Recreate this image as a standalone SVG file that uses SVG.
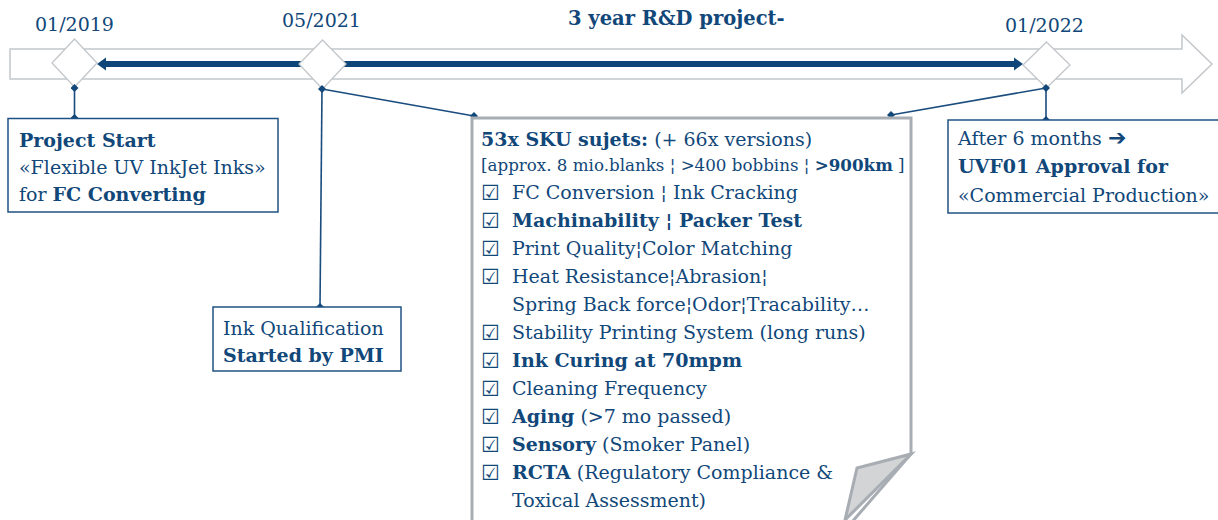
<svg xmlns="http://www.w3.org/2000/svg" width="1218" height="520" viewBox="0 0 1218 520">
<defs>
<style>
text{font-family:"DejaVu Serif","Liberation Serif",serif;fill:#114779;font-size:19px}
.b{font-weight:bold}
.date{font-size:19px}
.ttl{font-size:19.5px;font-weight:bold}
.sm{font-size:16.7px}
.chk{font-family:"DejaVu Sans",sans-serif;font-size:21px}
.box{fill:#fff;stroke:#1f5284;stroke-width:1.5}
.dia{fill:#fff;stroke:#c3c7cb;stroke-width:1.3}
.con{stroke:#1a4c7d;stroke-width:1.6;fill:none}
</style>
<marker id="dm" viewBox="-4 -4 8 8" markerWidth="8" markerHeight="8" markerUnits="userSpaceOnUse" refX="0" refY="0">
<path d="M0,-4L4,0L0,4L-4,0Z" fill="#114779"/>
</marker>
</defs>
<g id="timeline">
<polygon points="10,49 1182,49 1182,35 1212,64 1182,93 1182,79 10,79" fill="#fff" stroke="#c3c7cb" stroke-width="1.5"/>
<line x1="104" y1="64" x2="1016" y2="64" stroke="#0f4679" stroke-width="6"/>
<polygon points="97,64 106,57.5 106,70.5" fill="#0f4679"/>
<polygon points="1023,64 1014,57.5 1014,70.5" fill="#0f4679"/>
</g>
<g id="m2019"><polygon class="dia" points="74.5,39 97,63 74.5,87 52,63"/><text class="date" x="35" y="31">01/2019</text></g>
<g id="m2021"><polygon class="dia" points="322.5,40 346,64 322.5,89 299,64"/><text class="date" x="282" y="27">05/2021</text></g>
<g id="m2022"><polygon class="dia" points="1046.5,42 1070,65 1046.5,88 1023,65"/><text class="date" x="1005" y="32">01/2022</text></g>
<g id="title"><text class="ttl" x="568" y="25">3 year R&amp;D project-</text></g>
<g id="connectors">
<line class="con" x1="74.5" y1="88" x2="74.5" y2="118" marker-start="url(#dm)" marker-end="url(#dm)"/>
<line class="con" x1="322" y1="89" x2="320" y2="307" marker-start="url(#dm)" marker-end="url(#dm)"/>
<line class="con" x1="322" y1="89" x2="474" y2="116" marker-end="url(#dm)"/>
<line class="con" x1="1046" y1="88" x2="1046" y2="120" marker-start="url(#dm)" marker-end="url(#dm)"/>
<line class="con" x1="1046" y1="88" x2="891" y2="115" marker-end="url(#dm)"/>
</g>
<g id="start">
<rect class="box" x="8" y="118.5" width="270" height="93.5"/>
<text class="b" x="19" y="147">Project Start</text>
<text x="19" y="174">«Flexible UV InkJet Inks»</text>
<text x="19" y="201">for <tspan class="b">FC Converting</tspan></text>
</g>
<g id="inkqual">
<rect class="box" x="213" y="307" width="188" height="64"/>
<text x="223" y="335">Ink Qualification</text>
<text class="b" x="223" y="362">Started by PMI</text>
</g>
<g id="approval">
<rect class="box" x="948" y="120" width="275" height="93"/>
<text x="958" y="145">After 6 months <tspan font-family="DejaVu Sans, sans-serif" font-weight="bold" font-size="22">➔</tspan></text>
<text class="b" x="958" y="173">UVF01 Approval for</text>
<text x="958" y="202">«Commercial Production»</text>
</g>
<g id="sku">
<path d="M472,530 L472,118 L911,118 L911,454 L845,530" fill="#fff" stroke="#a7adb3" stroke-width="3"/>
<polygon points="911,454 857,468 845,520" fill="#d2d4d6" stroke="#a7adb3" stroke-width="3"/>
<text x="481" y="146"><tspan class="b">53x SKU sujets:</tspan> (+ 66x versions)</text>
<text class="sm" x="481" y="171">[approx. 8 mio.blanks ¦ &gt;400 bobbins ¦ <tspan class="b">&gt;900km</tspan> ]</text>
<text class="chk" x="481" y="200">☑</text>
<text class="chk" x="481" y="228">☑</text>
<text class="chk" x="481" y="256">☑</text>
<text class="chk" x="481" y="284">☑</text>
<text class="chk" x="481" y="340">☑</text>
<text class="chk" x="481" y="368">☑</text>
<text class="chk" x="481" y="396">☑</text>
<text class="chk" x="481" y="424">☑</text>
<text class="chk" x="481" y="452">☑</text>
<text class="chk" x="481" y="480">☑</text>
<text x="512" y="199">FC Conversion ¦ Ink Cracking</text>
<text class="b" x="512" y="227">Machinability ¦ Packer Test</text>
<text x="512" y="255">Print Quality¦Color Matching</text>
<text x="512" y="283">Heat Resistance¦Abrasion¦</text>
<text x="512" y="311">Spring Back force¦Odor¦Tracability…</text>
<text x="512" y="339">Stability Printing System (long runs)</text>
<text class="b" x="512" y="367">Ink Curing at 70mpm</text>
<text x="512" y="395">Cleaning Frequency</text>
<text x="512" y="423"><tspan class="b">Aging</tspan> (&gt;7 mo passed)</text>
<text x="512" y="451"><tspan class="b">Sensory</tspan> (Smoker Panel)</text>
<text x="512" y="479"><tspan class="b">RCTA</tspan> (Regulatory Compliance &amp;</text>
<text x="512" y="507">Toxical Assessment)</text>
</g>
</svg>
